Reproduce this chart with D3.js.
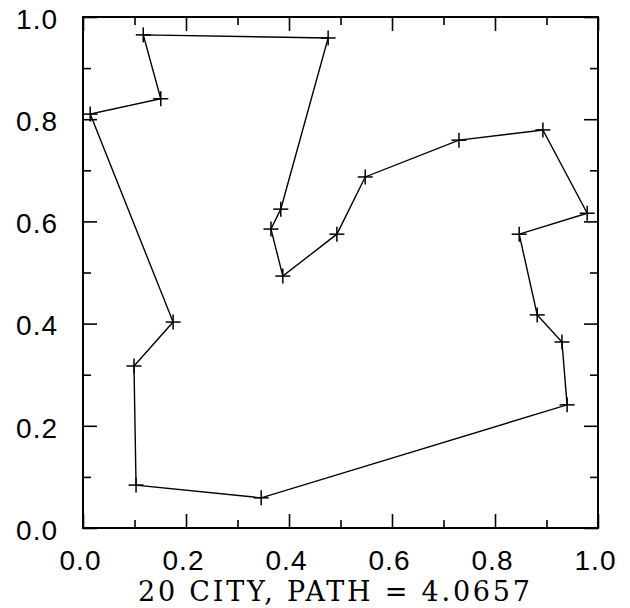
<!DOCTYPE html>
<html>
<head>
<meta charset="utf-8">
<script src="https://cdn.jsdelivr.net/npm/d3@7"></script>
<style>
  html, body { margin: 0; padding: 0; background: #fff; }
  svg { display: block; }
</style>
</head>
<body>
<svg id="chart" width="630" height="608"></svg>
<script>
// Tour order of the 20 cities (closed path)
const cityX = [0.117, 0.151, 0.014, 0.175, 0.099, 0.103, 0.346, 0.940, 0.930, 0.882,
               0.847, 0.979, 0.893, 0.730, 0.548, 0.493, 0.388, 0.365, 0.384, 0.476];
const cityY = [0.965, 0.840, 0.810, 0.403, 0.317, 0.084, 0.059, 0.241, 0.364, 0.417,
               0.575, 0.616, 0.779, 0.759, 0.687, 0.575, 0.493, 0.585, 0.624, 0.959];
const majorTicks = [0.0, 0.2, 0.4, 0.6, 0.8, 1.0];
const minorTicks = [0.1, 0.3, 0.5, 0.7, 0.9];
const tickLabels = ["0.0", "0.2", "0.4", "0.6", "0.8", "1.0"];
const titleText = "20 CITY, PATH = 4.0657";

const svg = d3.select("#chart");
const L = 83, R = 598, T = 17, B = 528;
const x = d3.scaleLinear().domain([0, 1]).range([L, R]);
const y = d3.scaleLinear().domain([0, 1]).range([B, T]);
const fmt = (d) => tickLabels[majorTicks.indexOf(d)];

function styleAxis(g) {
  g.select(".domain").remove();
  g.selectAll(".tick line").attr("stroke", "#000").attr("stroke-width", 1.6);
  g.selectAll(".tick text")
    .attr("fill", "#000")
    .style("font-family", "'Liberation Sans', Arial, sans-serif")
    .style("font-size", "28px");
}

// Bottom axis with labels
svg.append("g").attr("transform", `translate(0,${B})`)
  .call(d3.axisBottom(x).tickValues(majorTicks).tickSize(-14).tickPadding(22).tickFormat(fmt))
  .call(styleAxis)
  .call(g => g.selectAll(".tick text").attr("dx", -3).attr("letter-spacing", 1));
svg.append("g").attr("transform", `translate(0,${B})`)
  .call(d3.axisBottom(x).tickValues(minorTicks).tickSize(-8).tickFormat(""))
  .call(styleAxis);

// Left axis with labels
svg.append("g").attr("transform", `translate(${L},0)`)
  .call(d3.axisLeft(y).tickValues(majorTicks).tickSize(-14).tickPadding(25).tickFormat(fmt))
  .call(styleAxis)
  .call(g => g.selectAll(".tick text").attr("dy", "0.40em").attr("letter-spacing", 1));
svg.append("g").attr("transform", `translate(${L},0)`)
  .call(d3.axisLeft(y).tickValues(minorTicks).tickSize(-8).tickFormat(""))
  .call(styleAxis);

// Top and right axes (ticks only)
svg.append("g").attr("transform", `translate(0,${T})`)
  .call(d3.axisTop(x).tickValues(majorTicks).tickSize(-14).tickFormat(""))
  .call(styleAxis);
svg.append("g").attr("transform", `translate(0,${T})`)
  .call(d3.axisTop(x).tickValues(minorTicks).tickSize(-8).tickFormat(""))
  .call(styleAxis);
svg.append("g").attr("transform", `translate(${R},0)`)
  .call(d3.axisRight(y).tickValues(majorTicks).tickSize(-14).tickFormat(""))
  .call(styleAxis);
svg.append("g").attr("transform", `translate(${R},0)`)
  .call(d3.axisRight(y).tickValues(minorTicks).tickSize(-8).tickFormat(""))
  .call(styleAxis);

// Frame
svg.append("rect")
  .attr("x", L).attr("y", T).attr("width", R - L).attr("height", B - T)
  .attr("fill", "none").attr("stroke", "#000").attr("stroke-width", 2);

// Tour path (closed)
const pts = cityX.map((cx, i) => [cx, cityY[i]]);
const line = d3.line().x(d => x(d[0])).y(d => y(d[1])).curve(d3.curveLinearClosed);
svg.append("path")
  .datum(pts)
  .attr("d", line)
  .attr("fill", "none")
  .attr("stroke", "#000")
  .attr("stroke-width", 1.4);

// City markers (+)
const sym = d3.symbol().type(d3.symbolCross);
const arm = 7.5;
const marks = svg.append("g").attr("stroke", "#000").attr("stroke-width", 1.5);
pts.forEach(d => {
  const px = x(d[0]), py = y(d[1]);
  marks.append("line").attr("x1", px - arm).attr("x2", px + arm).attr("y1", py).attr("y2", py);
  marks.append("line").attr("x1", px).attr("x2", px).attr("y1", py - arm).attr("y2", py + arm);
});

// Title
svg.append("text")
  .attr("x", 334).attr("y", 601)
  .attr("text-anchor", "middle")
  .attr("textLength", 392)
  .attr("lengthAdjust", "spacing")
  .style("font-family", "'DejaVu Serif', serif")
  .style("font-size", "27px")
  .attr("fill", "#000")
  .text(titleText);
</script>
</body>
</html>
